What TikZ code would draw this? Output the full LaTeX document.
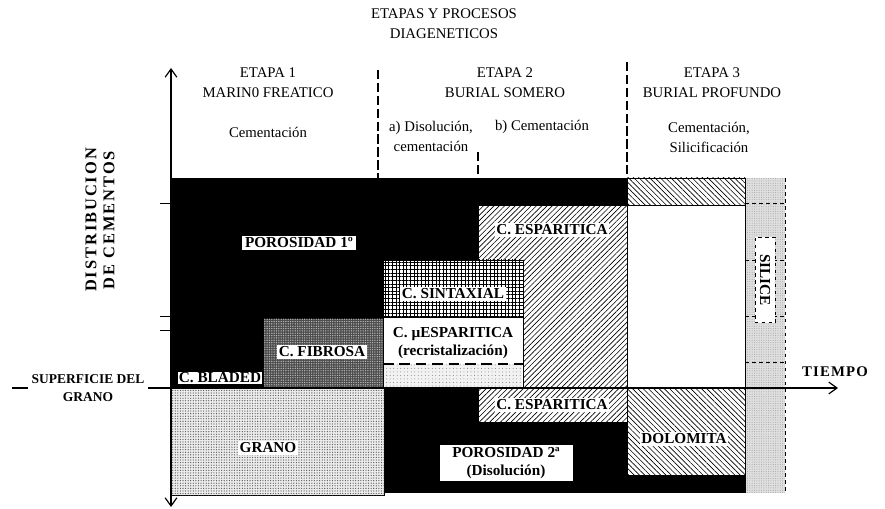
\documentclass[tikz,border=0pt]{standalone}
\usepackage{fontspec}
\setmainfont{Liberation Serif}
\usepackage{tikz}
\usetikzlibrary{patterns.meta, arrows.meta}
\newcommand{\tam}{\fontsize{12.6}{17}\selectfont}
\newcommand{\tamb}{\fontsize{13}{16}\selectfont\bfseries}
\tikzstyle{etiqueta} = [rectangle, fill=white, inner sep=1.5pt, font=\tamb, text centered]
\tikzstyle{encabezado} = [align=center, font=\tam]
\tikzstyle{borde} = [draw=black, line width=0.7pt]
\tikzstyle{separador} = [line width=0.9pt, dash pattern=on 8pt off 3pt]
\tikzstyle{eje} = [line width=1pt, -{Straight Barb[length=7pt,width=10pt]}]
\tikzstyle{rayadoNE} = [fill=white, postaction={pattern={Lines[angle=45,distance=3.2pt,line width=.55pt]}}]
\tikzstyle{rayadoNO} = [fill=white, postaction={pattern={Lines[angle=-45,distance=3.2pt,line width=.55pt]}}]
\tikzstyle{rejilla} = [fill=white, postaction={pattern={Hatch[angle=0,distance=3.1pt,line width=.5pt]}}]
\tikzstyle{punteado} = [fill=gray!15, postaction={pattern={Dots[distance=2.2pt,radius=.55pt]}, pattern color=black!65}]

\begin{document}
\begin{tikzpicture}[x=0.03cm, y=-0.03cm]
    \useasboundingbox (0,0) rectangle (885,509);

    % Coordenadas de los ejes
    \coordinate (origen) at (171,388);
    \coordinate (ytop) at (171,68);
    \coordinate (ybot) at (171,507);
    \coordinate (xfin) at (838,388);
    \coordinate (sizq) at (12,388);

    % Regiones
    \fill[black] (171,178) rectangle (627,388);
    \fill[black] (384,388) rectangle (745,493);
    \draw[borde, rayadoNO] (627,178) rectangle (745,205);
    \draw[borde, fill=white] (627,205) rectangle (745,388);
    \draw[borde, rayadoNE] (478,205) rectangle (627,388);
    \draw[borde, rejilla] (383,260) rectangle (523,317);
    \draw[borde, fill=white] (383,317) rectangle (523,388);
    \fill[gray!10, postaction={pattern={Dots[distance=3pt,radius=.4pt]}, pattern color=black!55}] (384,364) rectangle (522,387);
    \draw[line width=0.9pt, dash pattern=on 9pt off 5pt] (383,364) -- (523,364);
    \draw[borde, fill=black!70, postaction={pattern={Dots[distance=2pt,radius=.6pt]}, pattern color=gray!55}] (263,318) rectangle (383,388);
    \draw[borde, punteado] (171,388) rectangle (384,495);
    \draw[borde, rayadoNE] (478,388) rectangle (627,422);
    \draw[borde, rayadoNO] (627,388) rectangle (745,475);
    \fill[gray!25, postaction={pattern={Dots[distance=2pt,radius=.45pt]}, pattern color=gray!70}] (745,178) rectangle (785,493);
    \draw[borde] (745,178) -- (745,493);
    \draw[borde, dashed] (785,178) -- (785,493);
    \foreach \yy in {203,260,316,362}
        \draw[borde, dashed] (745,\yy) -- (785,\yy);

    % Separadores de etapas
    \draw[separador] (378,70) -- (378,178);
    \draw[separador] (627,62) -- (627,178);
    \draw[separador] (478,152) -- (478,178);

    % Ejes
    \draw[eje, {Straight Barb[length=7pt,width=10pt]}-{Straight Barb[length=7pt,width=10pt]}] (ybot) -- (ytop);
    \draw[eje] (origen) -- (xfin);
    \foreach \yy in {203,316,330}
        \draw[line width=0.8pt] (160,\yy) -- (171,\yy);

    % Nodos
    \node (titulo) [encabezado] at (444,24) {ETAPAS Y PROCESOS\\DIAGENETICOS};
    \node (etapa1) [encabezado] at (268,83) {ETAPA 1\\MARIN0 FREATICO};
    \node (cem1) [encabezado] at (268,132) {Cementación};
    \node (etapa2) [encabezado] at (505,83) {ETAPA 2\\BURIAL SOMERO};
    \node (disol) [encabezado] at (431,136) {a) Disolución,\\cementación};
    \node (cem2) [encabezado] at (542,127) {b) Cementación};
    \node (etapa3) [encabezado] at (712,83) {ETAPA 3\\BURIAL PROFUNDO};
    \node (cem3) [encabezado] at (709,137) {Cementación,\\Silicificación};
    \node (distrib) [align=center, rotate=90, font=\fontsize{14}{15.5}\selectfont\bfseries\addfontfeature{LetterSpace=12}] at (100,220) {DISTRIBUCION\\DE CEMENTOS};
    \node (tiempo) [font=\tam\bfseries\addfontfeature{LetterSpace=8}] at (835,372) {TIEMPO};
    \node (sup) [font=\fontsize{11.5}{15}\selectfont\bfseries] at (88,379) {SUPERFICIE DEL};
    \node (grano1) [font=\fontsize{11.5}{15}\selectfont\bfseries] at (88,397) {GRANO};

    \node (poro1) [etiqueta, inner xsep=3pt] at (299,243) {POROSIDAD 1º};
    \node (espar1) [etiqueta] at (552,230) {C. ESPARITICA};
    \node (sintax) [etiqueta] at (453,294) {C. SINTAXIAL};
    \node (micro) [encabezado, font=\tamb] at (453,343) {C. µESPARITICA\\(recristalización)};
    \node (fibrosa) [etiqueta] at (322,352) {C. FIBROSA};
    \node (bladed) [etiqueta, minimum width=2.4cm, inner ysep=1pt, inner xsep=0.5pt] at (220,378) {C. BLADED};
    \node (grano) [etiqueta] at (268,448) {GRANO};
    \node (espar2) [etiqueta] at (552,405) {C. ESPARITICA};
    \node (dolom) [etiqueta] at (684,439) {DOLOMITA};
    \node (poro2) [etiqueta, align=center, minimum width=3.99cm] at (506,463) {POROSIDAD 2ª\\(Disolución)};
    \node (silice) [etiqueta, draw, dashed, rotate=-90, minimum width=2.55cm, minimum height=0.6cm] at (765,280) {SILICE};

    % Linea de superficie
    \draw[line width=0.9pt] (sizq) -- (sup.west |- sizq);
    \draw[line width=0.9pt] (sup.east |- sizq) -- (origen);

\end{tikzpicture}
\end{document}
